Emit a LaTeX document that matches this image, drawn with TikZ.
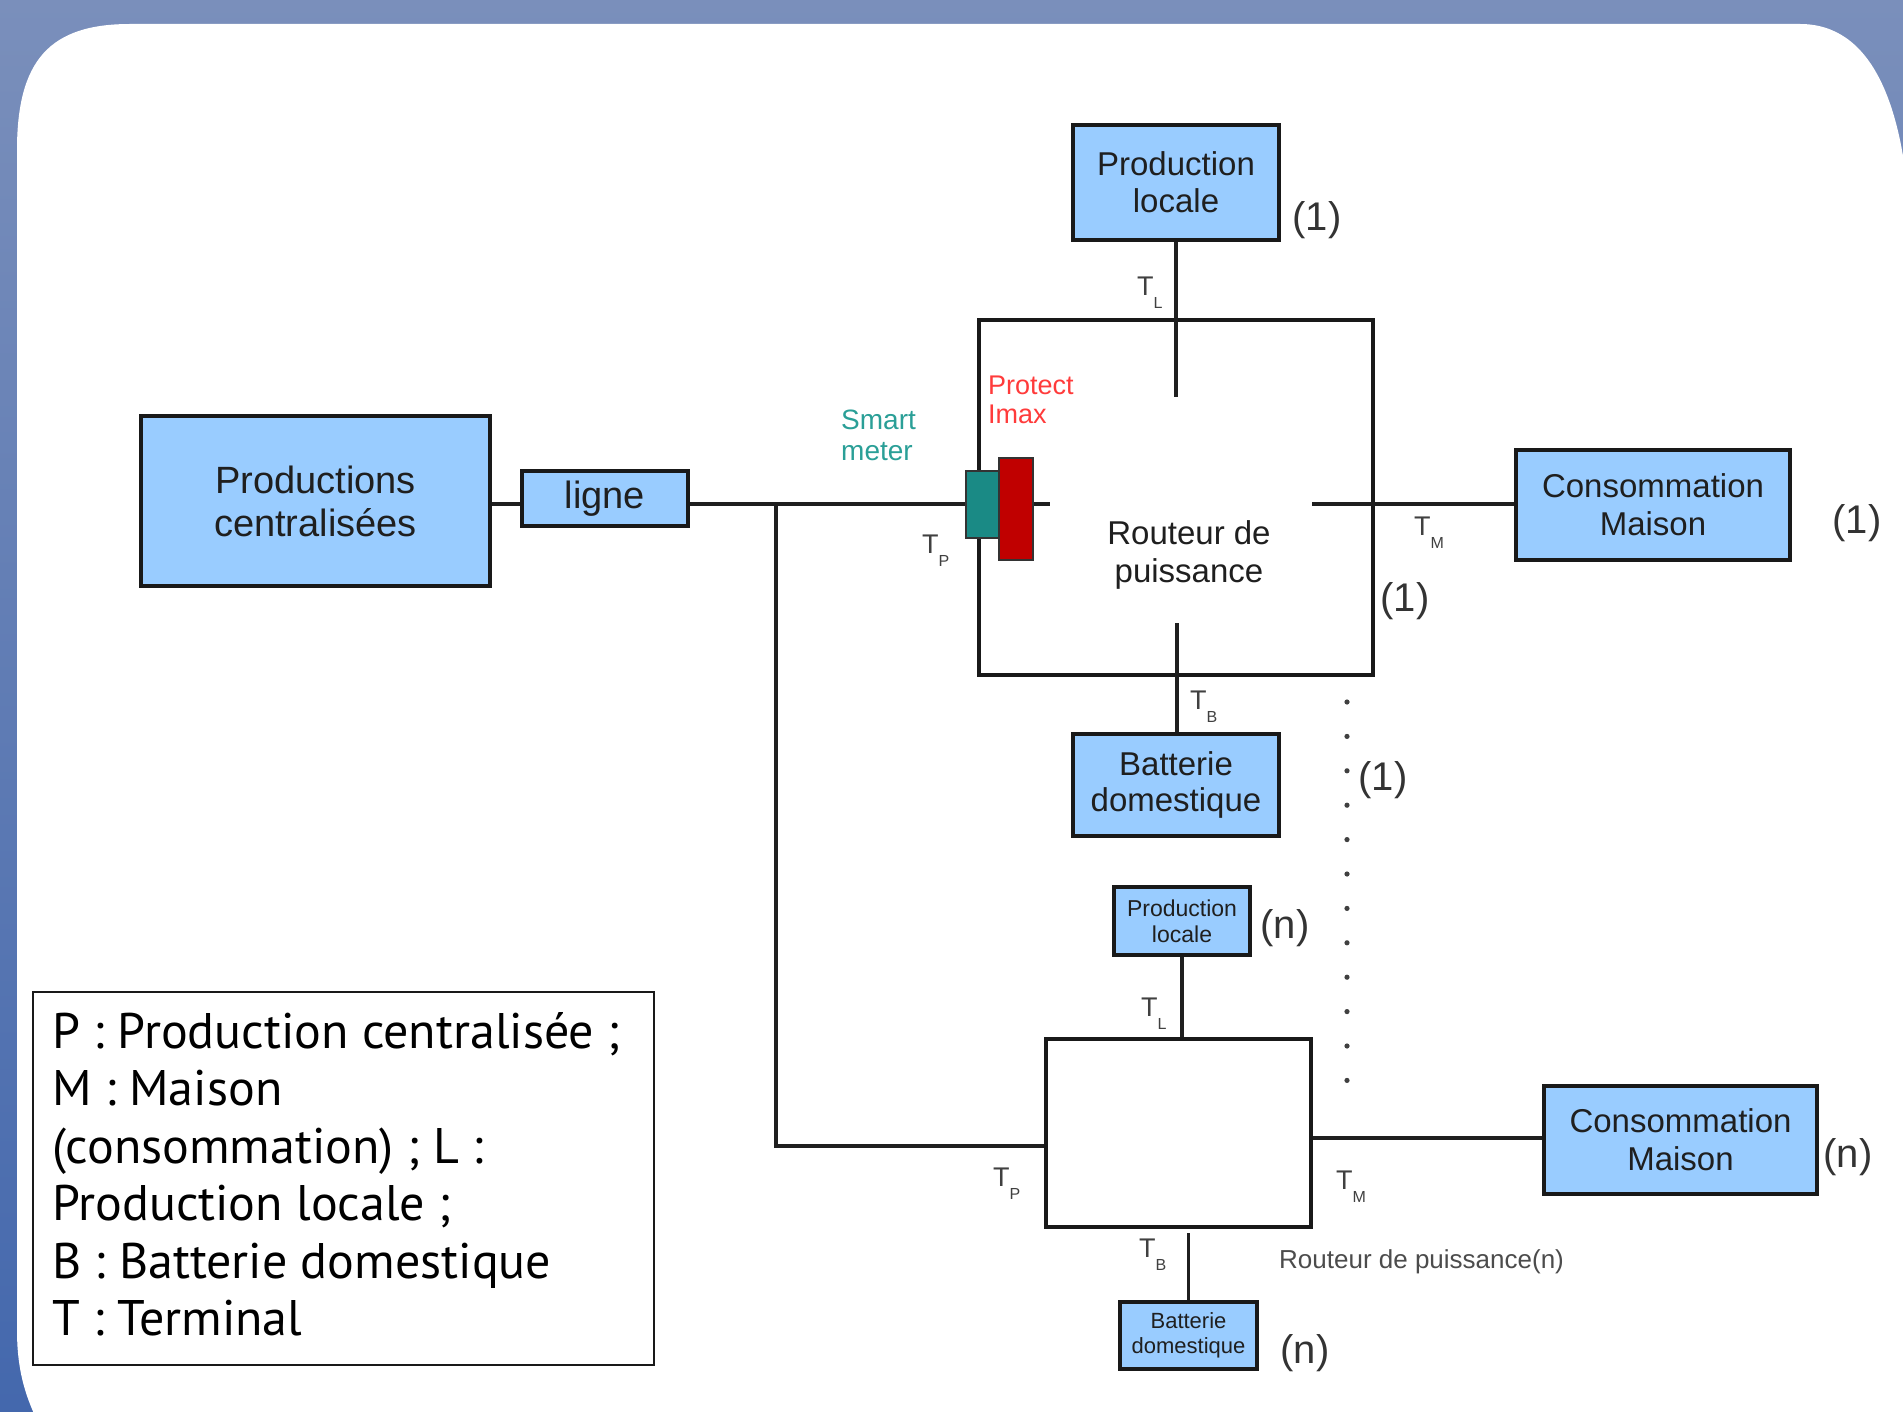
\documentclass[tikz,border=0pt]{standalone}
\usepackage{fontspec}
\setmainfont{Liberation Sans}
\newfontfamily\legfont{PT Sans}
\definecolor{boxblue}{HTML}{99CCFF}
\definecolor{bgtop}{HTML}{7A8FBB}
\definecolor{bgbot}{HTML}{4468AD}
\definecolor{smteal}{HTML}{1A8A85}
\definecolor{smtext}{HTML}{2A9F97}
\definecolor{pired}{HTML}{C00000}
\definecolor{pitext}{HTML}{FF3B3B}
\newcommand{\Tsub}[1]{T\raisebox{-13pt}{\fontsize{16}{16}\selectfont #1}}
\tikzset{
  box/.style={draw=black!90, line width=3.5pt, fill=boxblue, inner sep=0pt, align=center,
    font=\fontsize{33}{37}\selectfont, text=black!88},
  rbox/.style={draw=black!90, line width=3.5pt, inner sep=0pt},
  ln/.style={line width=3.5pt, draw=black!88},
  lbl/.style={font=\fontsize{40}{40}\selectfont, text=black!80, inner sep=0pt},
  tl/.style={font=\fontsize{27}{27}\selectfont, text=black!75, inner sep=0pt, anchor=base west},
}
\begin{document}
\begin{tikzpicture}[x=1pt,y=-1pt]
\clip (0,0) rectangle (1903,1412);
% background
\shade[top color=bgtop, bottom color=bgbot] (0,0) rectangle (1903,1412);
\fill[white] (17,1330) -- (17,150) .. controls (17,60) and (50,24) .. (130,24)
  -- (1800,24) .. controls (1870,24) and (1903,100) .. (1910,220) -- (1910,1480)
  -- (70,1480) .. controls (35,1420) and (17,1390) .. (17,1330) -- cycle;

% routers
\node[rbox, minimum width=394pt, minimum height=355pt] (r1) at (1176,497.5) {};
\node[rbox, minimum width=265pt, minimum height=188pt] (rn) at (1178.5,1133) {};

% boxes
\node[box, minimum width=349pt, minimum height=170pt, font=\fontsize{38}{43}\selectfont] (pc) at (315.5,501) {Productions\\centralisées};
\node[box, minimum width=166pt, minimum height=55pt, font=\fontsize{38}{43}\selectfont] (ligne) at (605,498.5) {ligne};
\node[box, minimum width=206pt, minimum height=115pt] (pl1) at (1176,182.5) {Production\\locale};
\node[box, minimum width=274pt, minimum height=110pt, font=\fontsize{33}{38}\selectfont] (cm1) at (1653,505) {Consommation\\Maison};
\node[box, minimum width=206pt, minimum height=102pt, font=\fontsize{33}{36}\selectfont] (bd1) at (1176,785) {Batterie\\domestique};
\node[box, minimum width=136pt, minimum height=68pt, font=\fontsize{23}{26}\selectfont] (pln) at (1182,921) {Production\\locale};
\node[box, minimum width=273pt, minimum height=108pt, font=\fontsize{33}{38}\selectfont] (cmn) at (1680.5,1140) {Consommation\\Maison};
\node[box, minimum width=137pt, minimum height=67pt, font=\fontsize{22}{25}\selectfont] (bdn) at (1188.5,1335.5) {Batterie\\domestique};

% smart meter and protection
\node[fill=smteal, draw=black!80, line width=1.5pt, minimum width=33pt, minimum height=67pt, inner sep=0pt] (sm) at (982.5,504.5) {};
\node[fill=pired, draw=black!80, line width=1.5pt, minimum width=34pt, minimum height=102pt, inner sep=0pt] (pi) at (1016,509) {};

% coordinates
\coordinate (j) at (776,504);
\coordinate (j2) at (776,1146);
\coordinate (pistub) at (1050,504);
\coordinate (r1top) at (1176,397);
\coordinate (r1right) at (1312,504);
\coordinate (r1bot) at (1177,623);
\coordinate (rnbot) at (1188.5,1233);

% connectors
\draw[ln] (pc.east |- j) -- (ligne.west |- j);
\draw[ln] (ligne.east |- j) -- (sm.west |- j);
\draw[ln] (pi.east |- j) -- (pistub);
\draw[ln] (j) -- (j2) -- (rn.west |- j2);
\draw[ln] (pl1.south) -- (r1top);
\draw[ln] (r1right) -- (cm1.west |- r1right);
\draw[ln] (r1bot) -- (r1bot |- bd1.north);
\draw[ln] (pln.south) -- (pln.south |- rn.north);
\draw[ln] (rn.east |- 0,1138) -- (cmn.west |- 0,1138);
\draw[ln] (rnbot) -- (bdn.north);

% dots
\foreach \i in {0,...,11} \fill[black!75] (1347,{702+\i*34.4}) circle (2.6pt);

% texts
\node[align=center, font=\fontsize{33}{38}\selectfont, text=black!88, inner sep=0pt] (r1t) at (1189,555) {Routeur de\\puissance};
\node[align=left, anchor=west, font=\fontsize{28}{31}\selectfont, text=smtext, inner sep=0pt] (smt) at (841,435) {Smart\\meter};
\node[align=left, anchor=west, font=\fontsize{27}{29}\selectfont, text=pitext, inner sep=0pt] (pit) at (988,400) {Protect\\Imax};
\node[anchor=west, font=\fontsize{26}{26}\selectfont, text=black!70, inner sep=0pt] (rnt) at (1279,1262) {Routeur de puissance(n)};

\node[lbl] (n1a) at (1317,220) {(1)};
\node[lbl] (n1b) at (1857,523) {(1)};
\node[lbl] (n1c) at (1405,601) {(1)};
\node[lbl] (n1d) at (1383,780) {(1)};
\node[lbl] (nna) at (1285,928) {(n)};
\node[lbl] (nnb) at (1848,1157) {(n)};
\node[lbl] (nnc) at (1305,1353) {(n)};

% terminal labels
\node[tl] (tl1) at (1137,296) {\Tsub{L}};
\node[tl] (tp1) at (922,553) {\Tsub{P}};
\node[tl] (tm1) at (1414,535) {\Tsub{M}};
\node[tl] (tb1) at (1190,709) {\Tsub{B}};
\node[tl] (tln) at (1141,1016) {\Tsub{L}};
\node[tl] (tpn) at (993,1186) {\Tsub{P}};
\node[tl] (tmn) at (1336,1189) {\Tsub{M}};
\node[tl] (tbn) at (1139,1257) {\Tsub{B}};

% legend
\node[draw=black!90, line width=2.2pt, minimum width=621pt, minimum height=373pt, inner sep=0pt] (leg) at (343.5,1178.5) {};
\node[anchor=north west, align=left, inner sep=0pt, font=\legfont\fontsize{50}{57.5}\selectfont] (legt) at (52,1012)
 {P : Production centralisée ;\\M : Maison\\(consommation) ; L :\\Production locale ;\\B : Batterie domestique\\T : Terminal};
\end{tikzpicture}
\end{document}
